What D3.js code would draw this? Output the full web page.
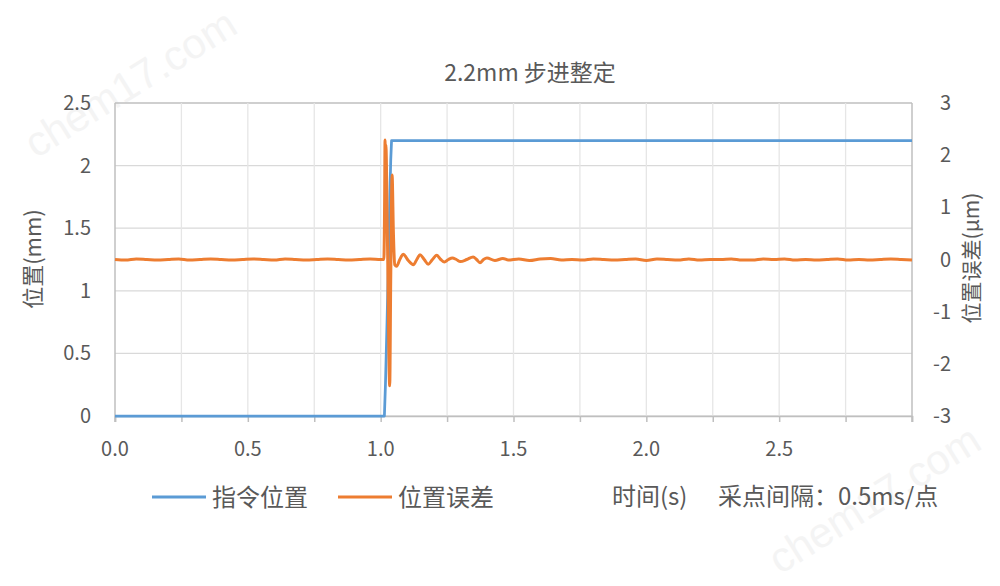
<!DOCTYPE html>
<html><head><meta charset="utf-8">
<script src="https://cdn.jsdelivr.net/npm/d3@7"></script>
<style>
body{margin:0;background:#fff;}
svg{display:block;}
text{font-family:"Noto Sans CJK SC","Microsoft YaHei",sans-serif;fill:#595959;}
</style></head>
<body>
<svg id="c" width="1000" height="586"></svg>
<script>
// ---- data ----
const title = "2.2mm 步进整定";
const leftTicks = [0, 0.5, 1, 1.5, 2, 2.5];
const rightTicks = [-3, -2, -1, 0, 1, 2, 3];
const xTickLabels = [0, 0.5, 1.0, 1.5, 2.0, 2.5];
const seriesNames = ["指令位置", "位置误差"];
const xAxisNote = "时间(s)";
const sampleNote = "采点间隔：0.5ms/点";

// command position (mm)
const cmdTime = [0, 1.000, 1.014, 1.018, 1.024, 1.030, 1.035, 1.038, 1.041, 3.0];
const cmdPos  = [0, 0,     0,     0.25,  0.75,  1.30,  1.80,  2.05,  2.2,   2.2];

// position error (μm)
const errTime = [
  0.00,0.04,0.08,0.12,0.16,0.20,0.24,0.28,0.32,0.36,0.40,0.44,0.48,0.52,0.56,0.60,0.64,0.68,0.72,0.76,0.80,0.84,0.88,0.92,0.96,1.00,
  1.012,1.015,1.0165,1.018,1.0195,1.026,1.034,1.038,1.043,1.048,1.053,1.060,1.072,1.085,1.104,1.123,1.136,1.148,1.164,1.179,1.195,1.211,1.226,1.240,1.255,1.270,1.285,1.300,1.324,1.348,1.361,1.374,1.387,1.400,1.430,1.460,
  1.48,1.52,1.56,1.60,1.64,1.68,1.72,1.76,1.80,1.84,1.88,1.92,1.96,2.00,2.04,2.08,2.12,2.16,2.20,2.24,2.28,2.32,2.36,2.40,2.44,2.48,2.52,2.56,2.60,2.64,2.68,2.72,2.76,2.80,2.84,2.88,2.92,2.96,3.00
];
const errVal = [
  0.00,-0.01,0.01,0.00,-0.01,0.00,0.01,-0.01,0.00,0.01,0.00,-0.01,0.00,0.01,0.00,-0.01,0.01,0.00,-0.01,0.00,0.01,0.00,-0.01,0.00,0.01,0.00,
  0.00,1.20,2.29,1.80,2.20,0.20,-2.42,-0.30,1.62,0.50,-0.10,-0.13,0.00,0.10,-0.02,-0.10,0.00,0.09,0.00,-0.09,0.00,0.08,0.00,-0.05,0.00,0.03,0.00,-0.04,0.00,0.05,0.00,-0.06,0.00,0.03,-0.02,0.02,
  -0.01,0.01,-0.02,0.01,0.02,-0.01,0.00,-0.01,0.01,0.00,-0.01,0.00,0.01,-0.02,0.01,0.00,-0.01,0.01,-0.01,0.00,0.00,0.01,-0.01,-0.01,0.01,0.00,0.01,-0.01,0.00,-0.01,0.00,0.01,-0.01,0.00,-0.01,0.00,0.01,0.00,-0.01
];

// ---- chart ----
const svg = d3.select("#c");
const x = d3.scaleLinear().domain([0, 3]).range([115, 912]);
const yL = d3.scaleLinear().domain([0, 2.5]).range([416, 103]);
const yR = d3.scaleLinear().domain([-3, 3]).range([416, 103]);

// watermarks
[[132, 86], [876, 502]].forEach(([cx, cy]) => {
  svg.append("text").attr("transform", `translate(${cx},${cy}) rotate(-32)`)
    .attr("text-anchor", "middle").attr("dominant-baseline", "middle")
    .style("font-family", "Arial, 'Liberation Sans', sans-serif")
    .style("font-size", "42px").style("fill", "#f4f4f4").text("chem17.com");
});

// gridlines
const g = svg.append("g");
g.selectAll(".hg").data(leftTicks).enter().append("line")
  .attr("x1", x(0)).attr("x2", x(3)).attr("y1", d => yL(d)).attr("y2", d => yL(d))
  .attr("stroke", d => d === 2.5 ? "#bfbfbf" : "#d9d9d9").attr("stroke-width", 1.3);
g.selectAll(".vg").data(d3.range(1, 12).map(i => i * 0.25)).enter().append("line")
  .attr("x1", d => x(d)).attr("x2", d => x(d)).attr("y1", yL(2.5)).attr("y2", yL(0))
  .attr("stroke", "#e6e6e6").attr("stroke-width", 1.3);

// axis lines
svg.append("line").attr("x1", x(0)).attr("x2", x(0)).attr("y1", yL(2.5)).attr("y2", yL(0) + 6).attr("stroke", "#bfbfbf").attr("stroke-width", 1.5);
svg.append("line").attr("x1", x(3)).attr("x2", x(3)).attr("y1", yL(2.5)).attr("y2", yL(0) + 6).attr("stroke", "#bfbfbf").attr("stroke-width", 1.5);

// bottom axis
const xAxis = d3.axisBottom(x).tickValues(d3.range(0, 13).map(i => i * 0.25)).tickSize(6).tickFormat("");
const xa = svg.append("g").attr("transform", `translate(0,${yL(0)})`).call(xAxis);
xa.select(".domain").attr("stroke", "#bfbfbf").attr("stroke-width", 1.5);
xa.selectAll(".tick line").attr("stroke", "#bfbfbf").attr("stroke-width", 1.5);
svg.selectAll(".xl").data(xTickLabels).enter().append("text")
  .attr("x", d => x(d)).attr("y", 456).attr("text-anchor", "middle")
  .style("font-size", "20px").text(d => d.toFixed(1));

// left labels
svg.selectAll(".ll").data(leftTicks).enter().append("text")
  .attr("x", 91).attr("y", d => yL(d) + 7).attr("text-anchor", "end")
  .style("font-size", "20px").text(d => d);
// right labels
svg.selectAll(".rl").data(rightTicks).enter().append("text")
  .attr("x", 951).attr("y", d => yR(d) + 7).attr("text-anchor", "end")
  .style("font-size", "20px").text(d => d);

// axis titles
svg.append("text").attr("transform", `translate(41,259) rotate(-90)`).attr("text-anchor", "middle")
  .style("font-size", "22px").text("位置(mm)");
svg.append("text").attr("transform", `translate(979,258) rotate(-90)`).attr("text-anchor", "middle")
  .style("font-size", "21px").text("位置误差(μm)");

// title
svg.append("text").attr("x", 530).attr("y", 81).attr("text-anchor", "middle")
  .style("font-size", "23px").text(title);

// lines
const cmdData = cmdTime.map((t, i) => [t, cmdPos[i]]);
const errData = errTime.map((t, i) => [t, errVal[i]]);
svg.append("path").datum(cmdData)
  .attr("d", d3.line().x(d => x(d[0])).y(d => yL(d[1])))
  .attr("fill", "none").attr("stroke", "#5B9BD5").attr("stroke-width", 2.75).attr("stroke-linejoin", "round");
svg.append("path").datum(errData)
  .attr("d", d3.line().curve(d3.curveMonotoneX).x(d => x(d[0])).y(d => yR(d[1])))
  .attr("fill", "none").attr("stroke", "#ED7D31").attr("stroke-width", 3).attr("stroke-linejoin", "round");

// legend
const legY = 497;
const leg = [{name: seriesNames[0], c: "#5B9BD5", x0: 152}, {name: seriesNames[1], c: "#ED7D31", x0: 338}];
leg.forEach(l => {
  svg.append("line").attr("x1", l.x0).attr("x2", l.x0 + 54).attr("y1", legY).attr("y2", legY)
    .attr("stroke", l.c).attr("stroke-width", 3);
  svg.append("text").attr("x", l.x0 + 60).attr("y", legY + 9).style("font-size", "24px").text(l.name);
});
svg.append("text").attr("x", 612).attr("y", legY + 8).style("font-size", "24px").text(xAxisNote);
svg.append("text").attr("x", 718).attr("y", legY + 8).style("font-size", "24px").text(sampleNote);
</script>
</body></html>
